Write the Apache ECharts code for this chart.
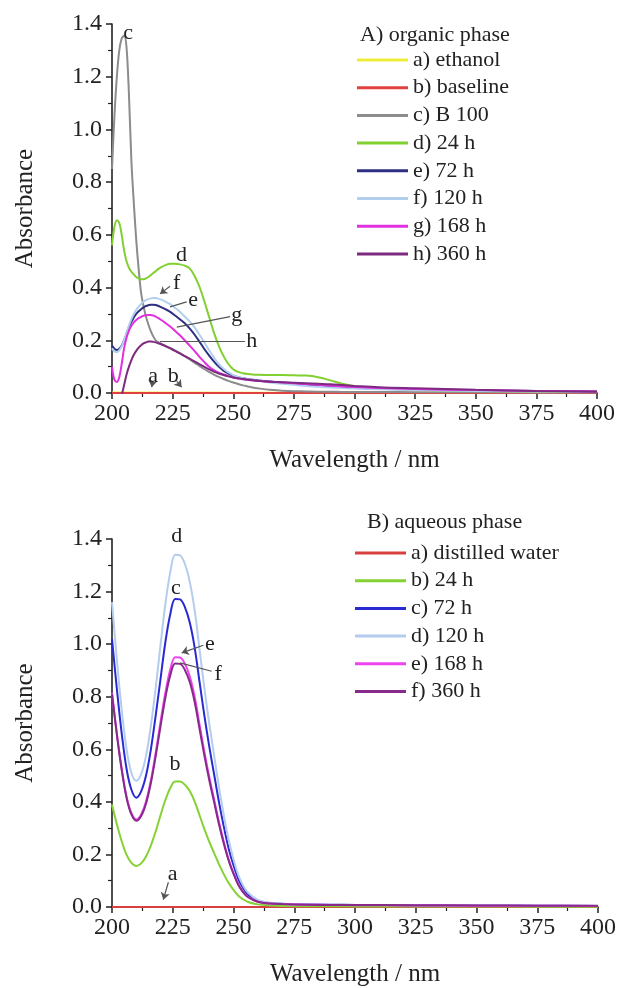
<!DOCTYPE html>
<html><head><meta charset="utf-8">
<script src="https://cdn.jsdelivr.net/npm/echarts@6/dist/echarts.min.js"></script>
<style>html,body{margin:0;padding:0;background:#fff}#c{width:619px;height:988px}</style>
</head><body><div id="c"></div>
<script>
// ---------- Panel A: organic phase ----------
const WL_A = [200,201,202,203,204,205,206,207,208,209,210,211,212,213,214,215,216,217,218,219,220,222,224,226,228,230,232,234,236,238,240,242,244,246,248,250,252,254,256,258,260,265,270,275,280,285,290,295,300,310,325,350,375,400];
const WL_A_FLAT = [200, 300, 400];
const A_ETHANOL = [0.002, 0.001, 0.001];
const A_BASELINE = [0, 0, 0];
const A_B100 = [0.85,1.05,1.2,1.3,1.345,1.355,1.31,1.13,0.88,0.72,0.58,0.47,0.38,0.33,0.29,0.26,0.235,0.215,0.2,0.193,0.188,
  0.18,0.171,0.161,0.151,0.14,0.128,0.115,0.103,0.091,0.08,0.07,0.061,0.053,0.046,0.04,0.034,0.029,0.025,0.021,0.018,
  0.012,0.009,0.007,0.006,0.005,0.005,0.004,0.004,0.004,0.003,0.003,0.002,0.002];
const A_24H = [0.56,0.63,0.655,0.645,0.6,0.54,0.5,0.475,0.46,0.45,0.44,0.435,0.432,0.432,0.435,0.44,0.447,0.455,0.462,0.47,0.476,
  0.485,0.49,0.49,0.488,0.483,0.473,0.445,0.405,0.35,0.29,0.23,0.18,0.14,0.11,0.09,0.08,0.075,0.072,0.07,0.069,
  0.068,0.068,0.067,0.066,0.06,0.048,0.035,0.026,0.018,0.012,0.008,0.006,0.005];
const A_72H = [0.18,0.168,0.163,0.168,0.18,0.2,0.225,0.25,0.27,0.287,0.3,0.31,0.318,0.325,0.33,0.333,0.335,0.335,0.334,0.331,0.327,
  0.318,0.308,0.294,0.28,0.265,0.245,0.222,0.196,0.168,0.143,0.12,0.1,0.085,0.074,0.066,0.06,0.056,0.053,0.05,0.048,
  0.044,0.04,0.036,0.032,0.028,0.025,0.022,0.02,0.017,0.013,0.01,0.008,0.006];
const A_120H = [0.17,0.158,0.155,0.162,0.178,0.2,0.228,0.256,0.28,0.3,0.316,0.328,0.338,0.346,0.352,0.356,0.359,0.36,0.36,0.358,0.355,
  0.347,0.337,0.323,0.308,0.29,0.272,0.25,0.222,0.193,0.163,0.135,0.11,0.092,0.078,0.068,0.061,0.056,0.052,0.049,0.046,
  0.04,0.035,0.031,0.027,0.024,0.021,0.019,0.017,0.014,0.011,0.008,0.006,0.005];
const A_168H = [0.1,0.05,0.042,0.06,0.11,0.17,0.21,0.237,0.255,0.268,0.277,0.284,0.289,0.293,0.295,0.296,0.296,0.294,0.29,0.285,0.279,
  0.266,0.252,0.236,0.219,0.2,0.18,0.16,0.138,0.118,0.1,0.087,0.077,0.07,0.064,0.059,0.055,0.052,0.05,0.048,0.046,
  0.043,0.04,0.037,0.034,0.031,0.028,0.025,0.023,0.019,0.015,0.011,0.008,0.006];
const A_360H = [-0.25,-0.2,-0.14,-0.07,-0.01,0.03,0.07,0.1,0.125,0.145,0.16,0.172,0.181,0.188,0.192,0.195,0.195,0.194,0.192,0.189,0.186,
  0.178,0.169,0.16,0.15,0.14,0.13,0.12,0.11,0.1,0.09,0.081,0.074,0.068,0.063,0.059,0.056,0.053,0.05,0.048,0.046,
  0.043,0.041,0.039,0.037,0.035,0.033,0.03,0.027,0.022,0.018,0.012,0.008,0.005];
const A_NAMES = ['a) ethanol','b) baseline','c) B 100','d) 24 h','e) 72 h','f) 120 h','g) 168 h','h) 360 h'];
// annotation letters [label, wavelength, absorbance, vertical offset px]
const A_LETTERS = [['c',206.7,1.365,0],['d',228.7,0.523,0],['f',226.7,0.416,0],['e',233.5,0.353,0],['g',251.4,0.296,0],['h',257.6,0.195,0],['a',217,0.062,0],['b',225.3,0.062,0]];
// leader lines [x1,y1,x2,y2,arrow]
const A_LEADERS = [[223.9,0.405,219.8,0.376,1],[230.8,0.346,223.9,0.327,0],[248.7,0.29,226.7,0.25,0],[254.8,0.195,219.8,0.195,0],[216.8,0.045,216.4,0.022,1],[226.7,0.045,228.7,0.022,1]];

// ---------- Panel B: aqueous phase ----------
const WL_B = [200,202,204,206,208,210,212,214,216,218,220,222,224,226,228,230,232,234,236,238,240,242,244,246,248,250,252,254,256,260,265,270,280,290,300,325,350,375,400];
const WL_B_FLAT = [200, 300, 400];
const B_WATER = [0, 0, 0];
const B_24H = [0.39,0.315,0.25,0.198,0.168,0.156,0.166,0.192,0.234,0.288,0.35,0.408,0.453,0.477,0.477,0.465,0.441,0.402,0.35,0.297,
  0.249,0.206,0.163,0.125,0.091,0.065,0.043,0.029,0.019,0.01,0.006,0.004,0.003,0.003,0.002,0.002,0.002,0.001,0.001];
const B_72H = [1.02,0.83,0.66,0.525,0.446,0.416,0.44,0.5,0.6,0.73,0.87,1.01,1.115,1.172,1.17,1.141,1.082,0.988,0.858,0.729,
  0.612,0.506,0.4,0.306,0.223,0.159,0.106,0.071,0.047,0.024,0.015,0.012,0.01,0.009,0.008,0.007,0.006,0.005,0.004];
const B_120H = [1.16,0.94,0.75,0.6,0.51,0.48,0.506,0.575,0.69,0.835,1.0,1.155,1.275,1.34,1.338,1.305,1.237,1.13,0.982,0.834,
  0.699,0.578,0.457,0.35,0.256,0.182,0.121,0.081,0.054,0.027,0.016,0.012,0.01,0.009,0.008,0.007,0.006,0.005,0.004];
const B_168H = [0.815,0.66,0.526,0.42,0.357,0.333,0.352,0.401,0.482,0.588,0.706,0.817,0.904,0.95,0.949,0.925,0.878,0.801,0.696,0.591,
  0.496,0.41,0.324,0.248,0.181,0.129,0.086,0.057,0.038,0.02,0.013,0.011,0.009,0.008,0.007,0.006,0.005,0.005,0.004];
const B_360H = [0.81,0.656,0.521,0.415,0.352,0.328,0.346,0.394,0.472,0.575,0.689,0.798,0.882,0.926,0.925,0.902,0.856,0.781,0.679,0.577,
  0.484,0.4,0.316,0.242,0.177,0.126,0.084,0.056,0.037,0.02,0.013,0.011,0.009,0.008,0.008,0.007,0.006,0.005,0.005];
const B_NAMES = ['a) distilled water','b) 24 h','c) 72 h','d) 120 h','e) 168 h','f) 360 h'];
const B_LETTERS = [['d',226.6,1.4,-3],['c',226.3,1.214,0],['e',240.3,0.998,0],['f',243.7,0.885,0],['b',225.9,0.543,0],['a',225,0.125,0]];
const B_LEADERS = [[237.6,0.996,228.7,0.967,1],[241,0.897,228,0.929,0],[223.2,0.094,221.1,0.028,1]];

const X_TICKS = [200,225,250,275,300,325,350,375,400];
const Y_TICKS = [0,0.2,0.4,0.6,0.8,1.0,1.2,1.4];

const FONT = '"Liberation Serif","Times New Roman",serif';
const INK = '#222';
function pairs(x, y){ return x.map((v,i)=>[v,y[i]]); }

function xAxis(gi, z){
  return {type:'value', gridIndex:gi, z:z, min:X_TICKS[0], max:X_TICKS[X_TICKS.length-1], interval:25,
    name:'Wavelength / nm', nameLocation:'middle', nameGap:55,
    nameTextStyle:{fontFamily:FONT, fontSize:25, color:INK},
    axisLine:{show:true, onZero:false, lineStyle:{color:INK, width:1.6}},
    axisTick:{show:true, length:6, lineStyle:{color:INK, width:1.5}},
    minorTick:{show:true, splitNumber:2, length:4, lineStyle:{color:INK, width:1.2}},
    axisLabel:{fontFamily:FONT, fontSize:24, color:INK, margin:9},
    splitLine:{show:false}, minorSplitLine:{show:false}};
}
function yAxis(gi){
  return {type:'value', gridIndex:gi, min:Y_TICKS[0], max:Y_TICKS[Y_TICKS.length-1], interval:0.2,
    name:'Absorbance', nameLocation:'middle', nameGap:74,
    nameTextStyle:{fontFamily:FONT, fontSize:25, color:INK},
    axisLine:{show:true, onZero:false, lineStyle:{color:INK, width:1.6}},
    axisTick:{show:true, length:6, lineStyle:{color:INK, width:1.5}},
    minorTick:{show:true, splitNumber:2, length:4, lineStyle:{color:INK, width:1.2}},
    axisLabel:{fontFamily:FONT, fontSize:24, color:INK, margin:10, formatter:v=>v.toFixed(1)},
    splitLine:{show:false}, minorSplitLine:{show:false}};
}
function line(name, gi, x, y, color, w){
  return {type:'line', name, xAxisIndex:gi, yAxisIndex:gi, data:pairs(x,y), showSymbol:false, symbol:'none',
    smooth:0.35, clip:true, lineStyle:{color, width:w||2}, itemStyle:{color}, emphasis:{disabled:true}};
}
function annot(gi, letters, leaders){
  return {type:'line', name:'annot'+gi, xAxisIndex:gi, yAxisIndex:gi, data:[], clip:false, silent:true, z:5,
    markPoint:{silent:true, symbol:'circle', symbolSize:1, itemStyle:{color:'rgba(0,0,0,0)'},
      label:{show:true, position:'inside', color:INK, fontFamily:FONT, fontSize:22, formatter:p=>p.name},
      data:letters.map(l=>({name:l[0], coord:[l[1],l[2]], label:{offset:[0,l[3]]}}))},
    markLine:{silent:true, symbolSize:7, animation:false,
      lineStyle:{color:'#555', width:1.2, type:'solid'}, label:{show:false},
      data:leaders.map(d=>[{coord:[d[0],d[1]], symbol:'none'},{coord:[d[2],d[3]], symbol:d[4]?'arrow':'none'}])}
  };
}

const legendCommon = {orient:'vertical', icon:'rect', itemWidth:51, itemHeight:3, itemGap:5.7,
  textStyle:{fontFamily:FONT, fontSize:22, color:INK, lineHeight:22}, selectedMode:false};

const chart = echarts.init(document.getElementById('c'));
chart.setOption({
  animation:false,
  backgroundColor:'#fff',
  title:[
    {text:'A) organic phase', left:355, top:19, textStyle:{fontFamily:FONT, fontSize:22, fontWeight:'normal', color:INK}},
    {text:'B) aqueous phase', left:362, top:506, textStyle:{fontFamily:FONT, fontSize:22, fontWeight:'normal', color:INK}}
  ],
  legend:[
    Object.assign({left:352, top:44, data:A_NAMES}, legendCommon),
    Object.assign({left:350, top:537, data:B_NAMES}, legendCommon)
  ],
  grid:[
    {left:112, top:24, width:485, height:369},
    {left:112, top:539, width:486, height:369}
  ],
  xAxis:[xAxis(0, 3), xAxis(1, 0)],
  yAxis:[yAxis(0), yAxis(1)],
  series:[
    line(A_NAMES[0],0,WL_A_FLAT,A_ETHANOL,'#eeee3a'),
    line(A_NAMES[1],0,WL_A_FLAT,A_BASELINE,'#e04040'),
    line(A_NAMES[2],0,WL_A,A_B100,'#8c8c8c'),
    line(A_NAMES[3],0,WL_A,A_24H,'#80d030'),
    line(A_NAMES[4],0,WL_A,A_72H,'#2e2e82'),
    line(A_NAMES[5],0,WL_A,A_120H,'#b2d0ee'),
    line(A_NAMES[6],0,WL_A,A_168H,'#e030e0'),
    line(A_NAMES[7],0,WL_A,A_360H,'#7e2a80'),
    annot(0, A_LETTERS, A_LEADERS),
    line(B_NAMES[0],1,WL_B_FLAT,B_WATER,'#d84040'),
    line(B_NAMES[1],1,WL_B,B_24H,'#84d234'),
    line(B_NAMES[2],1,WL_B,B_72H,'#2a2ad2'),
    line(B_NAMES[3],1,WL_B,B_120H,'#b4ccee'),
    line(B_NAMES[4],1,WL_B,B_168H,'#ee44ee'),
    line(B_NAMES[5],1,WL_B,B_360H,'#882a8a'),
    annot(1, B_LETTERS, B_LEADERS)
  ]
});
</script>
</body></html>
